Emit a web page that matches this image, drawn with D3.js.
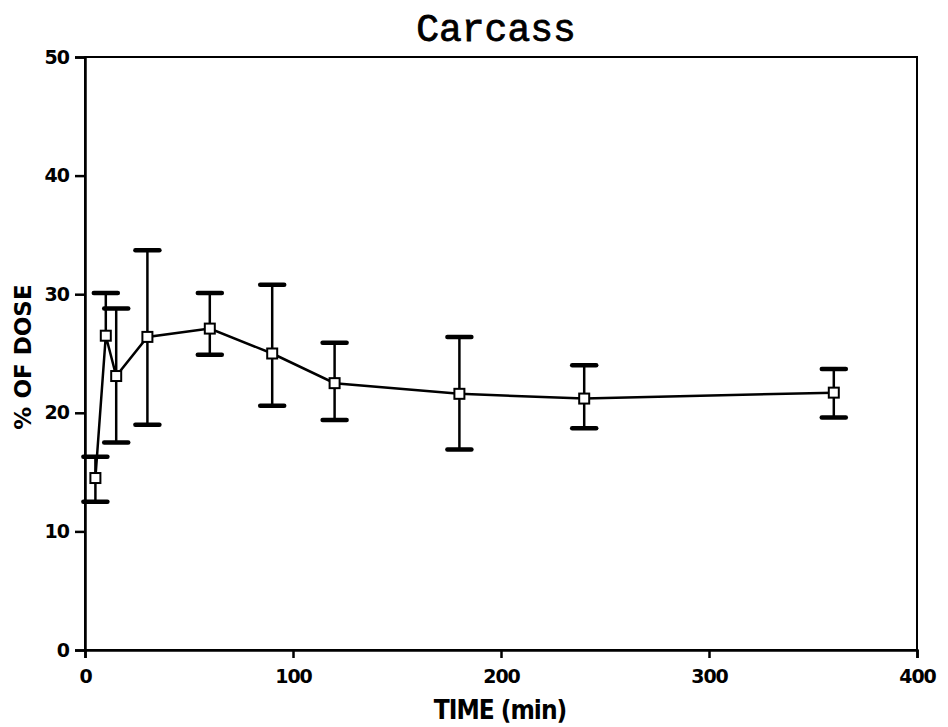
<!DOCTYPE html>
<html><head><meta charset="utf-8">
<script src="https://cdn.jsdelivr.net/npm/d3@7"></script>
<style>body{margin:0;background:#fff}</style>
</head><body><svg id="c" width="948" height="727"></svg>
<script>
const times = [5, 10, 15, 30, 60, 90, 120, 180, 240, 360];
const means = [14.5, 26.5, 23.1, 26.4, 27.1, 25.0, 22.5, 21.6, 21.2, 21.7];
const upper = [16.3, 30.1, 28.8, 33.7, 30.1, 30.8, 25.9, 26.4, 24.0, 23.7];
const lower = [12.5, 26.5, 17.5, 19.0, 24.9, 20.6, 19.4, 16.9, 18.7, 19.6];
const xTicks = [0, 100, 200, 300, 400];
const yTicks = [0, 10, 20, 30, 40, 50];

const svg = d3.select("#c");
const m = {l: 85, r: 917, t: 57, b: 650};
const x = d3.scaleLinear().domain([0, 400]).range([m.l, m.r]);
const y = d3.scaleLinear().domain([0, 50]).range([m.b, m.t]);

// frame
svg.append("rect").attr("x", m.l).attr("y", m.t).attr("width", m.r - m.l).attr("height", m.b - m.t)
  .attr("fill", "none").attr("stroke", "#000").attr("stroke-width", 2);

const fontTick = "'DejaVu Sans', sans-serif";
const xa = svg.append("g").attr("transform", `translate(0,${m.b})`)
  .call(d3.axisBottom(x).tickValues(xTicks).tickSize(8).tickPadding(12).tickFormat(d3.format("d")));
const ya = svg.append("g").attr("transform", `translate(${m.l},0)`)
  .call(d3.axisLeft(y).tickValues(yTicks).tickSize(10).tickPadding(6).tickFormat(d3.format("d")));
[xa, ya].forEach(a => {
  a.select(".domain").attr("stroke-width", 2.5);
  a.selectAll(".tick line").attr("stroke-width", 2.5);
  a.selectAll("text").attr("font-family", fontTick).attr("font-weight", "bold")
    .attr("font-size", 19).attr("fill", "#000").attr("letter-spacing", -1);
});

// line
const line = d3.line().x((d, i) => x(times[i])).y(d => y(d));
svg.append("path").datum(means).attr("d", line).attr("fill", "none")
  .attr("stroke", "#000").attr("stroke-width", 2.5);

// error bars
const eb = svg.append("g");
times.forEach((t, i) => {
  eb.append("line").attr("x1", x(t)).attr("x2", x(t)).attr("y1", y(upper[i])).attr("y2", y(lower[i]))
    .attr("stroke", "#000").attr("stroke-width", 2.5);
  eb.append("line").attr("x1", x(t) - 12).attr("x2", x(t) + 12).attr("y1", y(upper[i])).attr("y2", y(upper[i]))
    .attr("stroke", "#000").attr("stroke-width", 4.5).attr("stroke-linecap", "round");
  if (lower[i] !== means[i]) {
    eb.append("line").attr("x1", x(t) - 12).attr("x2", x(t) + 12).attr("y1", y(lower[i])).attr("y2", y(lower[i]))
      .attr("stroke", "#000").attr("stroke-width", 4.5).attr("stroke-linecap", "round");
  }
});

// markers
svg.append("g").selectAll("rect").data(means).join("rect")
  .attr("x", (d, i) => x(times[i]) - 5).attr("y", d => y(d) - 5)
  .attr("width", 10).attr("height", 10)
  .attr("fill", "#fff").attr("stroke", "#000").attr("stroke-width", 2);

// title and labels
svg.append("text").attr("x", 496).attr("y", 41).attr("text-anchor", "middle")
  .attr("font-family", "'Liberation Mono', 'DejaVu Sans Mono', monospace").attr("font-size", 38)
  .attr("stroke", "#000").attr("stroke-width", 0.8).text("Carcass");
svg.append("text").attr("x", 500).attr("y", 719).attr("text-anchor", "middle")
  .attr("font-family", "'DejaVu Sans Condensed', 'DejaVu Sans', sans-serif").attr("font-size", 26)
  .attr("font-weight", "bold").attr("letter-spacing", -1).text("TIME (min)");
svg.append("text").attr("transform", "translate(31,357) rotate(-90)").attr("text-anchor", "middle")
  .attr("font-family", "'DejaVu Sans', sans-serif").attr("font-size", 23).attr("font-weight", "bold")
  .text("% OF DOSE");
</script></body></html>
